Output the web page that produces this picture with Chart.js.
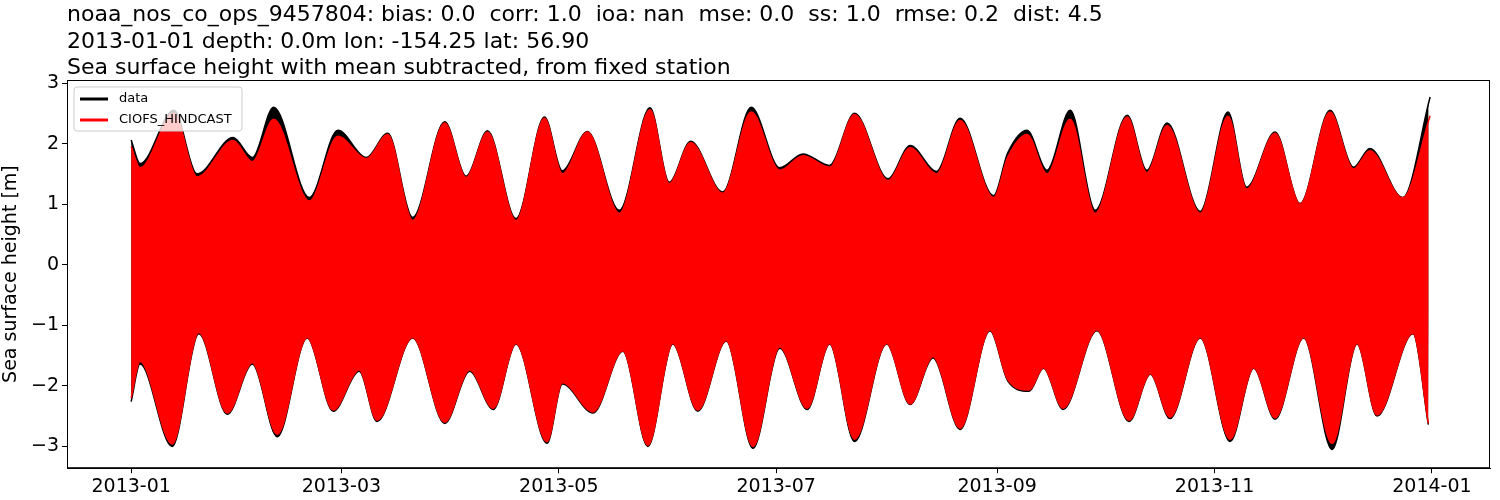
<!DOCTYPE html>
<html>
<head>
<meta charset="utf-8">
<script src="https://cdn.jsdelivr.net/npm/chart.js@4"></script>
<style>
  body { margin: 0; background: #fff; font-family: "DejaVu Sans", sans-serif; }
  #wrap { position: relative; width: 1500px; height: 500px; }
  .ttl { position: absolute; left: 67px; font-size: 22px; color: #000; white-space: pre; }
</style>
</head>
<body>
<div id="wrap">
  <div class="ttl" style="top:1px">noaa_nos_co_ops_9457804: bias: 0.0  corr: 1.0  ioa: nan  mse: 0.0  ss: 1.0  rmse: 0.2  dist: 4.5</div>
  <div class="ttl" style="top:28px">2013-01-01 depth: 0.0m lon: -154.25 lat: 56.90</div>
  <div class="ttl" style="top:54px">Sea surface height with mean subtracted, from fixed station</div>
  <canvas id="c" width="1500" height="500"></canvas>
</div>
<script>
// envelope of the tidal signal (day of 2013, metres)
const upperDays = [0, 2.5, 12, 18.5, 28.6, 34, 40, 50, 58, 66, 72, 79, 88, 94, 100, 108, 116, 121, 128, 137, 145.6, 151, 157, 166, 174, 182, 188.5, 196, 203, 212.4, 218.6, 226, 232.6, 242, 246, 251.4, 257, 263.5, 270.5, 279.5, 285, 290.7, 300, 307.8, 313, 321, 328, 336.4, 343, 347.6, 356.8, 364.5];
const modelUpper = [1.95, 1.6, 2.5, 1.45, 2.05, 1.7, 2.4, 1.05, 2.12, 1.75, 2.15, 0.73, 2.34, 1.44, 2.19, 0.73, 2.42, 1.5, 2.19, 0.85, 2.56, 1.34, 2.02, 1.18, 2.52, 1.56, 1.8, 1.61, 2.48, 1.39, 1.93, 1.5, 2.38, 1.11, 1.78, 2.15, 1.5, 2.4, 0.85, 2.44, 1.52, 2.3, 0.85, 2.45, 1.25, 2.17, 1.0, 2.52, 1.58, 1.88, 1.1, 2.46];
const dataUpper  = [2.06, 1.67, 2.55, 1.5, 2.1, 1.77, 2.6, 1.11, 2.22, 1.77, 2.17, 0.78, 2.36, 1.46, 2.21, 0.76, 2.44, 1.55, 2.2, 0.9, 2.59, 1.36, 2.04, 1.2, 2.6, 1.6, 1.83, 1.64, 2.5, 1.42, 1.97, 1.54, 2.42, 1.14, 1.85, 2.22, 1.56, 2.55, 0.9, 2.47, 1.56, 2.34, 0.88, 2.52, 1.28, 2.19, 1.01, 2.55, 1.61, 1.92, 1.11, 2.77];
const lowerDays = [0, 2.5, 11.5, 19, 27, 34, 41, 49.4, 56.7, 64, 69, 79, 88, 95, 101.6, 108, 116.7, 121, 129.6, 138, 145, 152, 159, 167, 174.5, 182, 189.7, 196, 203, 212, 218.6, 225, 232.6, 241, 246, 252, 256, 261.5, 271, 280, 286, 291.5, 300, 308.4, 315, 321, 329, 337, 344, 349.6, 359.7, 364];
const modelLower = [-2.2, -1.6, -2.96, -1.12, -2.45, -1.62, -2.8, -1.2, -2.4, -1.74, -2.57, -1.2, -2.6, -1.74, -2.37, -1.3, -2.92, -1.95, -2.43, -1.42, -2.98, -1.3, -2.4, -1.25, -3.0, -1.36, -2.37, -1.3, -2.88, -1.3, -2.3, -1.52, -2.7, -1.08, -1.9, -2.07, -1.7, -2.37, -1.08, -2.57, -1.8, -2.52, -1.2, -2.88, -1.7, -2.53, -1.2, -2.95, -1.3, -2.48, -1.13, -2.62];
const dataLower  = [-2.26, -1.64, -3.0, -1.14, -2.47, -1.64, -2.84, -1.21, -2.42, -1.76, -2.59, -1.21, -2.62, -1.76, -2.39, -1.31, -2.95, -1.97, -2.45, -1.43, -3.0, -1.31, -2.42, -1.26, -3.03, -1.38, -2.39, -1.31, -2.92, -1.31, -2.31, -1.54, -2.72, -1.09, -1.92, -2.09, -1.71, -2.39, -1.09, -2.59, -1.81, -2.54, -1.21, -2.92, -1.71, -2.55, -1.21, -3.05, -1.31, -2.5, -1.14, -2.64];
const tickDays = [0, 59, 120, 181, 243, 304, 365];
const tickLabels = ['2013-01', '2013-03', '2013-05', '2013-07', '2013-09', '2013-11', '2014-01'];

const pts = (xs, ys) => xs.map((x, i) => ({ x: x, y: ys[i] }));
const line = (label, xs, ys, color, fill, order) => ({
  label: label, data: pts(xs, ys), borderColor: color, backgroundColor: color,
  borderWidth: 1.5, pointRadius: 0, cubicInterpolationMode: 'monotone', fill: fill, order: order
});

const legendBox = {
  id: 'legendBox',
  afterDraw(chart) {
    const ctx = chart.ctx, a = chart.chartArea;
    // top and right spines
    ctx.save();
    ctx.strokeStyle = '#000'; ctx.lineWidth = 1;
    ctx.strokeRect(a.left + 0.5, a.top + 0.5, a.right - a.left - 1, a.bottom - a.top - 1);
    const x = a.left + 7, y = a.top + 7;
    ctx.fillStyle = 'rgba(255,255,255,0.8)';
    ctx.strokeStyle = '#ccc';
    ctx.beginPath();
    ctx.roundRect(x, y, 168, 44, 3);
    ctx.fill(); ctx.stroke();
    ctx.font = '13px "DejaVu Sans"';
    ctx.textBaseline = 'middle';
    [['data', '#000'], ['CIOFS_HINDCAST', '#f00']].forEach((e, i) => {
      const yy = y + 12 + i * 21;
      ctx.strokeStyle = e[1]; ctx.lineWidth = 3;
      ctx.beginPath(); ctx.moveTo(x + 6, yy); ctx.lineTo(x + 34, yy); ctx.stroke();
      ctx.fillStyle = '#000';
      ctx.fillText(e[0], x + 45, yy);
    });
    ctx.restore();
  }
};

const tickGrid = { display: true, drawOnChartArea: false, drawTicks: true, tickLength: 5, color: '#000' };

new Chart(document.getElementById('c').getContext('2d'), {
  type: 'line',
  data: {
    datasets: [
      line('data', upperDays, dataUpper, '#000', '+1', 2),
      line('data_low', lowerDays, dataLower, '#000', false, 2),
      line('CIOFS_HINDCAST', upperDays, modelUpper, '#f00', '+1', 1),
      line('CIOFS_low', lowerDays, modelLower, '#f00', false, 1)
    ]
  },
  options: {
    responsive: false,
    animation: false,
    layout: { padding: { top: 80, right: 10, left: 0, bottom: 0 } },
    plugins: { legend: { display: false }, tooltip: { enabled: false } },
    scales: {
      x: {
        type: 'linear', min: -18, max: 381.3,
        grid: tickGrid,
        border: { color: '#000', width: 1 },
        afterBuildTicks: s => { s.ticks = tickDays.map(v => ({ value: v })); },
        ticks: {
          color: '#000', font: { size: 19, family: 'DejaVu Sans' },
          maxRotation: 0, autoSkip: false, padding: 2,
          callback: (v) => tickLabels[tickDays.indexOf(v)]
        }
      },
      y: {
        min: -3.36, max: 3.05,
        grid: tickGrid,
        border: { color: '#000', width: 1 },
        afterFit: s => { s.width = 67; },
        afterBuildTicks: s => { s.ticks = [-3, -2, -1, 0, 1, 2, 3].map(v => ({ value: v })); },
        ticks: { color: '#000', font: { size: 19, family: 'DejaVu Sans' }, padding: 3, callback: v => v < 0 ? '\u2212' + (-v) : String(v) },
        title: { display: true, text: 'Sea surface height [m]', color: '#000', font: { size: 19, family: 'DejaVu Sans' }, padding: 0 }
      }
    }
  },
  plugins: [legendBox]
});
</script>
</body>
</html>
